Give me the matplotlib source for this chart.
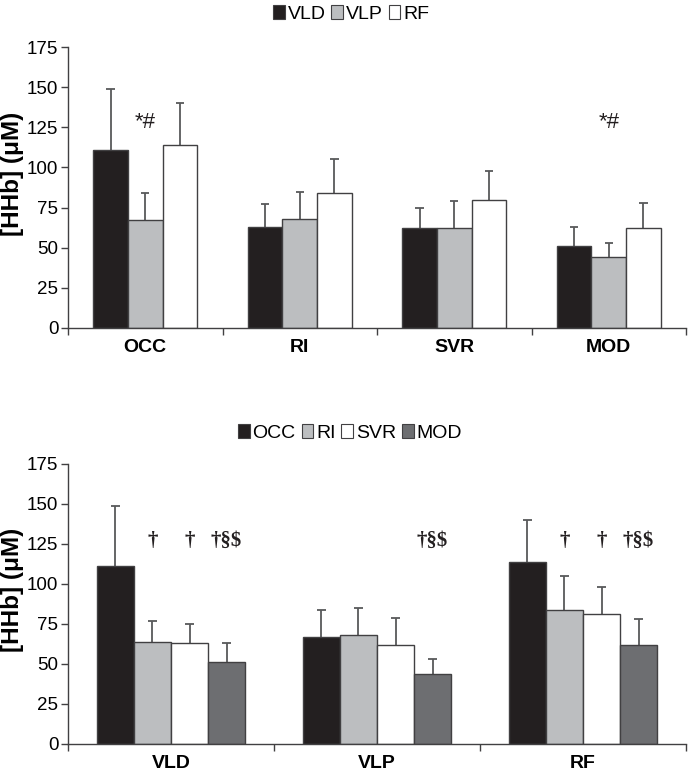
import matplotlib
matplotlib.use("Agg")
import matplotlib.pyplot as plt
import numpy as np
from matplotlib.patches import Patch

plt.rcParams['font.family'] = ['Liberation Sans Narrow', 'Liberation Sans', 'DejaVu Sans']

# Top panel: conditions x muscles
conditions = ["OCC", "RI", "SVR", "MOD"]
muscles = ["VLD", "VLP", "RF"]
vld_mean = [111, 63, 62, 51]
vld_sd = [38, 14, 13, 12]
vlp_mean = [67, 68, 62, 44]
vlp_sd = [17, 17, 17, 9]
rf_mean = [114, 84, 80, 62]
rf_sd = [26, 21, 18, 16]
top_marks = ["*#", "", "", "*#"]  # above VLP bars
top_mark_y = 128

# Bottom panel: muscles x conditions
occ_mean = [111, 67, 114]
occ_sd = [38, 17, 26]
ri_mean = [64, 68, 84]
ri_sd = [13, 17, 21]
svr_mean = [63, 62, 81]
svr_sd = [12, 17, 17]
mod_mean = [51, 44, 62]
mod_sd = [12, 9, 16]
ri_marks = ["†", "", "†"]
svr_marks = ["†", "", "†"]
mod_marks = ["†§$", "†§$", "†§$"]
bottom_mark_y = 127

yticks = [0, 25, 50, 75, 100, 125, 150, 175]
ylabel = "[HHb] (μM)"

BLACK = "#231f20"
LGRAY = "#bcbec0"
WHITE = "#ffffff"
DGRAY = "#6d6e71"
EDGE = "#414042"
ERR = "#58595b"

fig = plt.figure(figsize=(6.88, 7.79), dpi=100)

def style_axes(ax, ngroups):
    ax.set_ylim(0, 175)
    ax.set_xlim(0, ngroups)
    ax.set_yticks(yticks)
    ax.set_yticklabels([str(t) for t in yticks], fontsize=13.5)
    for s in ["top", "right"]:
        ax.spines[s].set_visible(False)
    for s in ["left", "bottom"]:
        ax.spines[s].set_color(EDGE)
        ax.spines[s].set_linewidth(1.0)
    ax.tick_params(axis="y", length=5, width=1.0, color=EDGE, pad=2)
    ax.set_xticks(np.arange(ngroups + 1), minor=True)
    ax.set_xticks(np.arange(ngroups) + 0.5)
    ax.tick_params(axis="x", which="major", length=0, pad=8)
    ax.tick_params(axis="x", which="minor", length=5, width=1.0, color=EDGE)
    ax.set_ylabel(ylabel, fontsize=17.5, fontweight="bold",
                  family=["Liberation Sans", "DejaVu Sans"])
    ax.yaxis.set_label_coords(-44 / 618, 0.55)

def draw_group(ax, series_means, series_sds, colors, width, labels):
    n = len(series_means)
    x = np.arange(len(series_means[0])) + 0.5
    for i, (m, s, c) in enumerate(zip(series_means, series_sds, colors)):
        xi = x + (i - (n - 1) / 2) * width
        m = np.asarray(m, float)
        s = np.asarray(s, float)
        ax.bar(xi, m, width=width, color=c, edgecolor=EDGE, linewidth=1.0,
               label=labels[i], zorder=2)
        ax.vlines(xi, m, m + s, color=ERR, linewidth=1.3, zorder=1)
        ax.hlines(m + s, xi - width * 0.12, xi + width * 0.12, color=ERR,
                  linewidth=1.3, zorder=1)
    return x

# Top axes
ax1 = fig.add_axes([68 / 688, 1 - 328 / 779, 618 / 688, 281 / 779])
style_axes(ax1, len(conditions))
w1 = 0.224
x1 = draw_group(ax1, [vld_mean, vlp_mean, rf_mean], [vld_sd, vlp_sd, rf_sd],
                [BLACK, LGRAY, WHITE], w1, muscles)
ax1.set_xticklabels(conditions, fontsize=14, fontweight="bold",
                    family=["Liberation Sans", "DejaVu Sans"])
for xi, mk in zip(x1, top_marks):
    if mk:
        ax1.text(xi, top_mark_y, mk, ha="center", va="center", fontsize=16,
                 family=["Liberation Sans", "DejaVu Sans"], color="#231f20")

handles1 = [Patch(facecolor=c, edgecolor=EDGE, linewidth=0.8) for c in [BLACK, LGRAY, WHITE]]
fig.legend(handles1, muscles, loc="center", bbox_to_anchor=(351 / 688, 1 - 14 / 779),
           ncol=3, frameon=False, fontsize=14, handlelength=0.6, handleheight=0.7,
           handletextpad=0.15, columnspacing=0.3, borderpad=0)

# Bottom axes
ax2 = fig.add_axes([68 / 688, 1 - 744 / 779, 618 / 688, 280 / 779])
style_axes(ax2, len(muscles))
w2 = 0.18
x2 = draw_group(ax2, [occ_mean, ri_mean, svr_mean, mod_mean],
                [occ_sd, ri_sd, svr_sd, mod_sd],
                [BLACK, LGRAY, WHITE, DGRAY], w2, conditions)
ax2.set_xticklabels(muscles, fontsize=14, fontweight="bold",
                    family=["Liberation Sans", "DejaVu Sans"])
for j, marks in zip([1, 2, 3], [ri_marks, svr_marks, mod_marks]):
    for xi, mk in zip(x2, marks):
        if mk:
            ax2.text(xi + (j - 1.5) * w2, bottom_mark_y, mk, ha="center", va="center",
                     fontsize=15, fontweight="bold",
                     family=["Liberation Serif", "DejaVu Serif"], color="#231f20")

handles2 = [Patch(facecolor=c, edgecolor=EDGE, linewidth=0.8) for c in [BLACK, LGRAY, WHITE, DGRAY]]
fig.legend(handles2, conditions, loc="center", bbox_to_anchor=(350 / 688, 1 - 433 / 779),
           ncol=4, frameon=False, fontsize=14, handlelength=0.6, handleheight=0.7,
           handletextpad=0.15, columnspacing=0.3, borderpad=0)

fig.savefig("out.png", dpi=100)
